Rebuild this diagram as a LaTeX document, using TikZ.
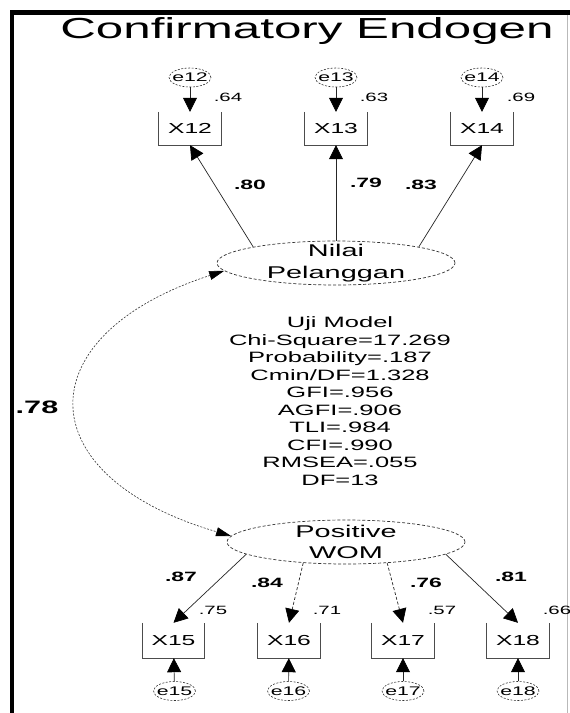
\documentclass[tikz,border=0pt]{standalone}
\usepackage{fontspec}
\setmainfont{Liberation Sans}[FakeStretch=1.7]
\usetikzlibrary{shapes.geometric,arrows.meta}
\newcommand\amosfs[2]{\fontsize{#1}{#2}\selectfont}
\begin{document}
\begin{tikzpicture}[x=1pt,y=-1pt,
  lat/.style={ellipse, draw=black!80, line width=0.7pt, dash pattern=on 3pt off 2pt, minimum width=238pt, minimum height=44pt, inner sep=0pt},
  lattxt/.style={align=center, inner sep=0pt, font=\amosfs{17}{21.5}},
  err/.style={ellipse, draw=black!80, line width=0.6pt, dash pattern=on 2pt off 1.5pt, minimum width=42pt, minimum height=19pt, inner sep=0pt, font=\amosfs{12.5}{14}},
  obs/.style={minimum width=62pt, minimum height=33pt, inner sep=0pt, font=\amosfs{14.5}{16}},
  obsframe/.style={draw=black!70, line width=0.8pt},
  arr/.style={draw=black!85, line width=0.7pt, -{Triangle[width=14pt,length=14pt,fill=black,color=black]}},
  darr/.style={arr, dash pattern=on 3pt off 2pt},
  cov/.style={draw=black!80, line width=0.6pt, dash pattern=on 2pt off 1.5pt, {Triangle[width=9pt,length=15pt,color=black]}-{Triangle[width=9pt,length=15pt,color=black]}},
  varlab/.style={inner sep=0pt, font=\amosfs{12}{14}},
  loadlab/.style={inner sep=0pt, font=\bfseries\amosfs{13.5}{15}},
  fitlab/.style={align=center, inner sep=0pt, font=\amosfs{15}{17.5}}
]
\fill[white] (0,0) rectangle (570,713);
\useasboundingbox (0,0) rectangle (570,713);
% frame
\coordinate (fTL) at (12,12.5);
\coordinate (fBL) at (12,713);
\coordinate (fTR) at (570,12.5);
\coordinate (gT) at (567.5,14.75);
\coordinate (gB) at (567.5,713);
\draw[line width=4.5pt] (fBL) -- (fTL) -- (fTR);
\draw[gray!55, line width=0.9pt] (gT) -- (gB);
% title
\node[font=\amosfs{29}{34}, inner sep=0pt] (title) at (307,31) {Confirmatory Endogen};
% latents
\node[lat] (NP) at (336,263) {};
\node[lattxt] (NPt) at (NP.center) {Nilai\\Pelanggan};
\node[lat] (PW) at (346,542) {};
\node[lattxt] (PWt) at (PW.center) {Positive\\WOM};
% top indicators
\node[obs] (X12) at (190,128.5) {X12};
\node[obs] (X13) at (336,128.5) {X13};
\node[obs] (X14) at (482,128.5) {X14};
\foreach \n in {X12,X13,X14}{\draw[obsframe] (\n.north west) |- (\n.south) -| (\n.north east);}
\node[err] (e12) at (190,77.5) {\makebox[0pt]{e12}};
\node[err] (e13) at (336,77.5) {\makebox[0pt]{e13}};
\node[err] (e14) at (482,77.5) {\makebox[0pt]{e14}};
\draw[arr] (e12) -- (X12);
\draw[arr] (e13) -- (X13);
\draw[arr] (e14) -- (X14);
\node[varlab] (v12) at (228,97) {.64};
\node[varlab] (v13) at (374,97) {.63};
\node[varlab] (v14) at (521,97) {.69};
% bottom indicators
\node[obs, minimum height=35pt] (X15) at (173.5,640.5) {X15};
\node[obs, minimum height=35pt] (X16) at (289,640.5) {X16};
\node[obs, minimum height=35pt] (X17) at (403,640.5) {X17};
\node[obs, minimum height=35pt] (X18) at (518,640.5) {X18};
\foreach \n in {X15,X16,X17,X18}{\draw[obsframe] (\n.north west) |- (\n.south) -| (\n.north east);}
\node[err] (e15) at (174.5,691) {\makebox[0pt]{e15}};
\node[err] (e16) at (288.5,691) {\makebox[0pt]{e16}};
\node[err] (e17) at (403,691) {\makebox[0pt]{e17}};
\node[err] (e18) at (518,691) {\makebox[0pt]{e18}};
\draw[arr] (e15) -- (X15);
\draw[arr] (e16) -- (X16);
\draw[arr] (e17) -- (X17);
\draw[arr] (e18) -- (X18);
\node[varlab] (v15) at (213,610) {.75};
\node[varlab] (v16) at (327,610) {.71};
\node[varlab] (v17) at (442,610) {.57};
\node[varlab] (v18) at (557,610) {.66};
% loadings
\draw[arr] (NP.169) -- (X12.south);
\draw[arr] (NP.north) -- (X13.south);
\draw[arr] (NP.11) -- (X14.south);
\draw[arr] (PW.187) -- (X15.north);
\draw[darr] (PW.206) -- (X16.north);
\draw[darr] (PW.333) -- (X17.north);
\draw[arr] (PW.353) -- (X18.north);
\node[loadlab] (l12) at (250,185) {.80};
\node[loadlab] (l13) at (366,183) {.79};
\node[loadlab] (l14) at (421,185) {.83};
\node[loadlab] (l15) at (181,577) {.87};
\node[loadlab] (l16) at (267,583) {.84};
\node[loadlab] (l17) at (426,583) {.76};
\node[loadlab] (l18) at (511,577) {.81};
% covariance
\draw[cov] (NP.184) .. controls (26,335) and (26,476) .. (PW.177);
\node[inner sep=0pt, font=\bfseries\amosfs{18}{20}] (cv) at (37,407) {.78};
% fit
\node[fitlab] (fit) at (340,401) {Uji Model\\Chi-Square=17.269\\Probability=.187\\Cmin/DF=1.328\\GFI=.956\\AGFI=.906\\TLI=.984\\CFI=.990\\RMSEA=.055\\DF=13};
\end{tikzpicture}
\end{document}
